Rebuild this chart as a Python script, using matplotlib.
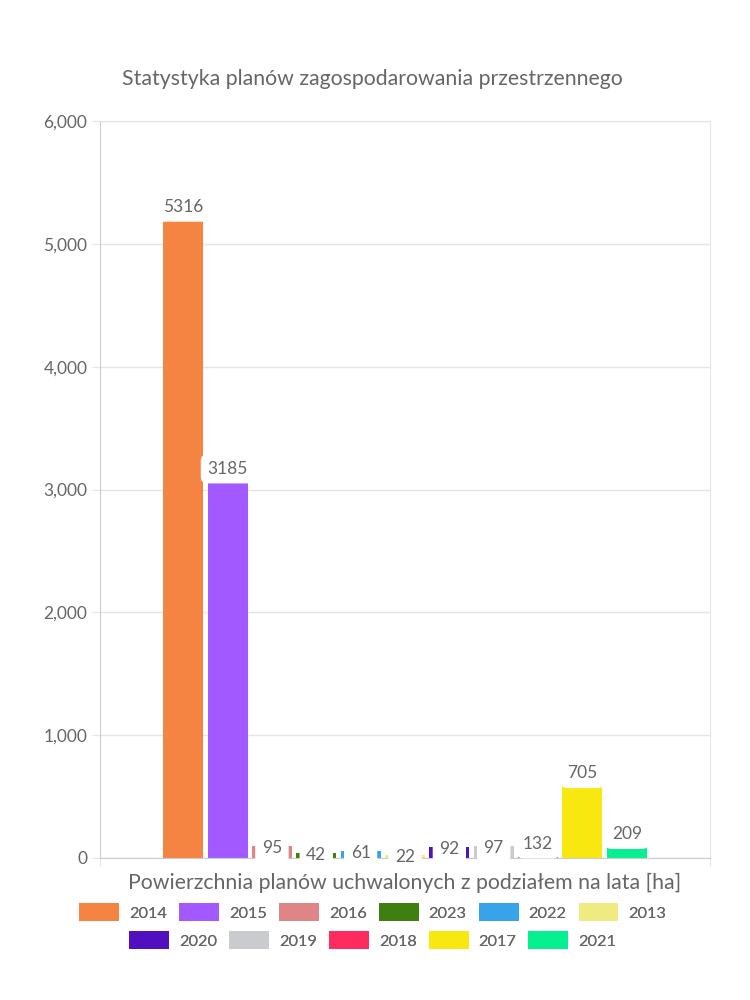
#!/usr/bin/env python3

import matplotlib
matplotlib.use('Agg')
import matplotlib.pyplot as plt
from matplotlib.patches import Patch
from matplotlib.ticker import FuncFormatter

######################
# data
######################
YEARS = ['2014', '2015', '2016', '2023', '2022', '2013',
         '2020', '2019', '2018', '2017', '2021']
AREA_HA = [5316, 3185, 95, 42, 61, 22, 92, 97, 132, 705, 209]
COLORS = ['#f58442', '#a259ff', '#e08585', '#3f7f0f', '#38a3eb', '#efeb80',
          '#5010c0', '#cacbcf', '#ff2b5e', '#f8e810', '#05f090']

TITLE = 'Statystyka planów zagospodarowania przestrzennego'
XLABEL = 'Powierzchnia planów uchwalonych z podziałem na lata [ha]'

plt.rcParams['font.family'] = ['Lato', 'DejaVu Sans']
TXT = '#666666'
GRID = '#e4e4e4'

fig = plt.figure(figsize=(7.5, 10), dpi=100)
ax = fig.add_axes([100/750, 1-858/1000, 610/750, 737/1000])

# one category, 11 datasets side by side (chart.js style grouping)
n = len(YEARS)
slot = 0.8 / n
for i, (yr, v, c) in enumerate(zip(YEARS, AREA_HA, COLORS)):
    x = -0.4 + (i + 0.5) * slot
    ax.bar(x, v, width=slot*0.9, color=c, zorder=2)
    ax.annotate(str(v), (x, v), xytext=(0, -1.5), textcoords='offset points',
                ha='center', va='center', fontsize=12.5,
                color=TXT, zorder=4,
                bbox=dict(boxstyle='round,pad=0.38', fc='white', ec='none'))

ax.set_xlim(-0.5, 0.5)
ax.set_ylim(0, 6000)
ax.set_yticks(range(0, 6001, 1000))
ax.yaxis.set_major_formatter(FuncFormatter(lambda v, p: f'{int(v):,}'))
ax.set_xticks([-0.5, 0.5])
ax.set_xticklabels(['', ''])

ax.grid(axis='y', color=GRID, lw=1, zorder=0)
for s in ax.spines.values():
    s.set_color(GRID)
ax.spines['left'].set_color('#cccccc')
ax.spines['bottom'].set_color('#cccccc')
ax.tick_params(axis='both', length=6, color=GRID, labelcolor=TXT,
               labelsize=12.5, pad=3)

ax.set_xlabel(XLABEL, fontsize=15.3, color=TXT, labelpad=2)
fig.text(0.497, 1-79/1000, TITLE, ha='center', va='center',
         fontsize=15.3, color=TXT)

# legend, 2 centered rows
handles = [Patch(facecolor=c, edgecolor='none', label=y)
           for y, c in zip(YEARS, COLORS)]
rows = [(handles[:6], 912), (handles[6:], 940)]
for hs, ypx in rows:
    leg = fig.legend(handles=hs, loc='center', bbox_to_anchor=(0.497, 1-ypx/1000),
                     ncol=len(hs), frameon=False, fontsize=11.8,
                     handlelength=2.44, handleheight=1.27, handletextpad=0.61,
                     columnspacing=0.73, borderaxespad=0)
    for t in leg.get_texts():
        t.set_color(TXT)
    fig.add_artist(leg)

plt.savefig('out.png', dpi=100)
